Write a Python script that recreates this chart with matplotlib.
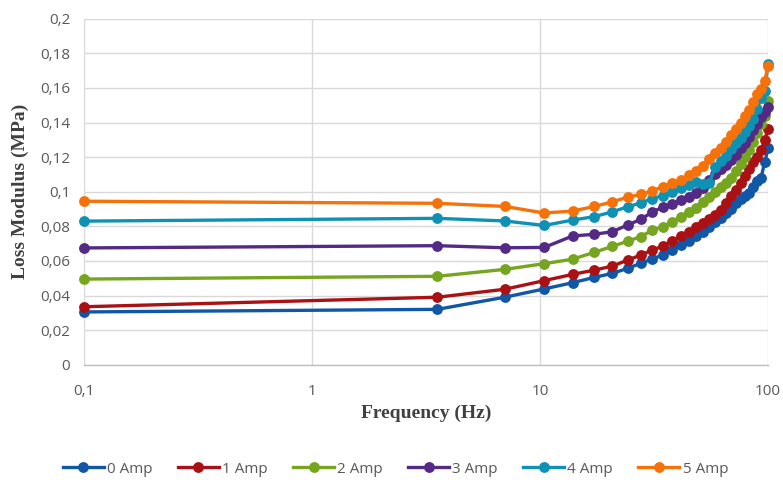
import matplotlib.pyplot as plt
from matplotlib.ticker import FixedLocator, NullLocator

# frequency sweep (Hz)
freq = [0.1, 3.54, 6.99, 10.43, 13.88, 17.32, 20.77, 24.21, 27.66, 31.1,
        34.55, 37.99, 41.44, 44.88, 48.33, 51.77, 55.22, 58.66, 62.11, 65.55,
        69.0, 72.44, 75.89, 79.33, 82.78, 86.22, 89.67, 93.11, 96.56, 100.0]

amp0 = [0.0305, 0.0320, 0.0390, 0.0438, 0.0474, 0.0505, 0.0528, 0.0557, 0.0586, 0.0612,
        0.0634, 0.0663, 0.0692, 0.0717, 0.0744, 0.0765, 0.0798, 0.0827, 0.0850, 0.0875,
        0.0900, 0.0935, 0.0960, 0.0975, 0.0995, 0.1030, 0.1060, 0.1080, 0.1170, 0.1250]
amp1 = [0.0335, 0.0390, 0.0436, 0.0486, 0.0522, 0.0547, 0.0570, 0.0605, 0.0634, 0.0663,
        0.0686, 0.0717, 0.0744, 0.0765, 0.0798, 0.0817, 0.0840, 0.0868, 0.0895, 0.0935,
        0.0975, 0.1010, 0.1048, 0.1090, 0.1130, 0.1170, 0.1200, 0.1240, 0.1300, 0.1360]
amp2 = [0.0495, 0.0511, 0.0551, 0.0584, 0.0610, 0.0650, 0.0684, 0.0714, 0.0740, 0.0779,
        0.0798, 0.0827, 0.0855, 0.0880, 0.0904, 0.0940, 0.0970, 0.1000, 0.1025, 0.1050,
        0.1080, 0.1120, 0.1160, 0.1200, 0.1240, 0.1290, 0.1340, 0.1390, 0.1440, 0.1525]
amp3 = [0.0675, 0.0688, 0.0676, 0.0678, 0.0744, 0.0754, 0.0769, 0.0808, 0.0840, 0.0884,
        0.0910, 0.0930, 0.0950, 0.0970, 0.0990, 0.1020, 0.1068, 0.1100, 0.1129, 0.1154,
        0.1183, 0.1212, 0.1251, 0.1283, 0.1318, 0.1357, 0.1390, 0.1430, 0.1460, 0.1490]
amp4 = [0.0830, 0.0846, 0.0831, 0.0805, 0.0836, 0.0856, 0.0884, 0.0913, 0.0935, 0.0960,
        0.0978, 0.1000, 0.1020, 0.1040, 0.1058, 0.1045, 0.1050, 0.1145, 0.1175, 0.1206,
        0.1245, 0.1280, 0.1310, 0.1345, 0.1380, 0.1420, 0.1480, 0.1540, 0.1580, 0.1740]
amp5 = [0.0945, 0.0933, 0.0915, 0.0877, 0.0888, 0.0915, 0.0942, 0.0968, 0.0985, 0.1005,
        0.1030, 0.1050, 0.1070, 0.1095, 0.1120, 0.1150, 0.1190, 0.1225, 0.1255, 0.1290,
        0.1330, 0.1365, 0.1400, 0.1435, 0.1475, 0.1520, 0.1565, 0.1595, 0.1640, 0.1728]

labels = ["0 Amp", "1 Amp", "2 Amp", "3 Amp", "4 Amp", "5 Amp"]
colors = ["#1157a8", "#a91115", "#76a51f", "#532a85", "#0f91b4", "#f5720b"]

x_ticks = [0.1, 1, 10, 100]
x_ticklabels = ["0,1", "1", "10", "100"]
y_ticks = [0, 0.02, 0.04, 0.06, 0.08, 0.1, 0.12, 0.14, 0.16, 0.18, 0.2]
y_ticklabels = ["0", "0,02", "0,04", "0,06", "0,08", "0,1", "0,12", "0,14", "0,16", "0,18", "0,2"]

fig = plt.figure(figsize=(7.83, 4.8), dpi=100)
ax = fig.add_axes([0.1073, 0.2402, 0.8737, 0.7208])

for ys, lab, col in zip([amp0, amp1, amp2, amp3, amp4, amp5], labels, colors):
    ax.plot(freq, ys, color=col, linewidth=2.4, marker="o", markersize=7.8,
            markeredgewidth=0, label=lab, clip_on=False, zorder=3)

ax.set_xscale("log")
ax.set_xlim(0.1, 100)
ax.set_ylim(0, 0.2)
ax.xaxis.set_major_locator(FixedLocator(x_ticks))
ax.xaxis.set_minor_locator(NullLocator())
ax.set_xticklabels(x_ticklabels)
ax.set_yticks(y_ticks)
ax.set_yticklabels(y_ticklabels)

tick_font = ["Open Sans", "DejaVu Sans"]
for t in ax.get_xticklabels() + ax.get_yticklabels():
    t.set_family(tick_font)
    t.set_fontsize(11)
    t.set_color("#595959")
ax.tick_params(axis="both", length=0)
ax.tick_params(axis="x", pad=14)
ax.tick_params(axis="y", pad=10)

ax.grid(True, color="#d9d9d9", linewidth=1.0, zorder=0)
ax.set_axisbelow(True)
for s in ["top", "right", "left"]:
    ax.spines[s].set_visible(False)
ax.spines["bottom"].set_color("#bfbfbf")
ax.spines["bottom"].set_linewidth(1.0)

ax.set_xlabel("Frequency (Hz)", family="Liberation Serif", fontweight="bold",
              fontsize=14, color="#404040", labelpad=4)
ax.set_ylabel("Loss Modulus (MPa)", family="Liberation Serif", fontweight="bold",
              fontsize=14, color="#404040", labelpad=8)

leg = fig.legend(loc="lower center", bbox_to_anchor=(0.505, -0.022), ncol=6,
                 frameon=False, prop={"family": "Open Sans", "size": 11},
                 handlelength=2.7, columnspacing=1.65, handletextpad=0.2)
for t in leg.get_texts():
    t.set_color("#595959")

fig.savefig("out.png", dpi=100)
